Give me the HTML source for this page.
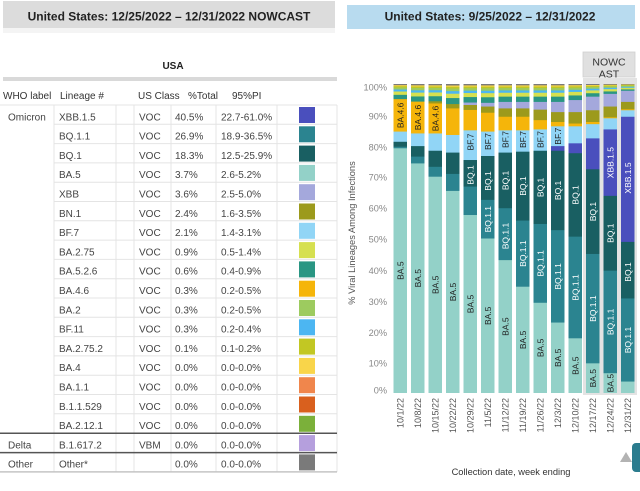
<!DOCTYPE html>
<html>
<head>
<meta charset="utf-8">
<style>
html,body{margin:0;padding:0;background:#fff;}
body{width:640px;height:486px;overflow:hidden;}
svg text{font-family:"Liberation Sans",Arial,sans-serif;}
.tb{font-size:10px;fill:#444;}
.hd{font-size:10px;fill:#333;}
.yl{font-size:9.2px;fill:#888;text-anchor:end;}
.xl{font-size:9px;fill:#555;text-anchor:end;}
.bl{font-size:8.5px;text-anchor:middle;}
.w{fill:#fff;}
.d{fill:#1e1e1e;}
.b5{fill:#93d1c8}.q11{fill:#2b8490}.q1{fill:#195f62}.x15{fill:#4a4fbd}.xb{fill:#a4a8dc}.bn{fill:#9c9a1c}.f7{fill:#91d5f6}.a46{fill:#f5b50a}
.vl{stroke:#e4e4e4;stroke-width:1;}
.hl{stroke:#e4e4e4;stroke-width:1;}
</style>
</head>
<body>
<svg width="640" height="486" viewBox="0 0 640 486" xmlns="http://www.w3.org/2000/svg">
<defs>
<symbol id="m" viewBox="0 0 10 100" preserveAspectRatio="none">
<rect width="10" height="100" fill="#2a9683"/>
<rect width="10" height="65" fill="#d6e050"/>
<rect width="10" height="45" fill="#4cb6f2"/>
<rect width="10" height="33" fill="#9dcb5f"/>
<rect width="10" height="21" fill="#c2c723"/>
<rect width="10" height="13" fill="#f9d54a"/>
<rect width="10" height="7" fill="#7a7a7a"/>
</symbol>
</defs>

<!-- Left header -->
<rect x="3" y="1" width="332" height="27" fill="#dcdcdc"/>
<rect x="3" y="28" width="332" height="5" fill="#f4f4f4"/>
<text x="169" y="20.5" font-size="12" font-weight="bold" fill="#222" text-anchor="middle">United States: 12/25/2022 – 12/31/2022 NOWCAST</text>

<!-- Right header -->
<rect x="347" y="5" width="288" height="24" fill="#b8dbef"/>
<text x="490" y="20.5" font-size="12" font-weight="bold" fill="#222" text-anchor="middle">United States: 9/25/2022 – 12/31/2022</text>

<!-- USA -->
<text x="173" y="69" font-size="10" font-weight="bold" fill="#222" text-anchor="middle">USA</text>
<rect x="3" y="77" width="334" height="4" fill="#d9d9d9"/>

<!-- Table header -->
<text class="hd" x="3" y="99">WHO label</text>
<text class="hd" x="60" y="99">Lineage #</text>
<text class="hd" x="138" y="99">US Class</text>
<text class="hd" x="188" y="99">%Total</text>
<text class="hd" x="232" y="99">95%PI</text>

<!-- Table grid -->
<line class="vl" x1="54" y1="105" x2="54" y2="472"/>
<line class="vl" x1="116" y1="105" x2="116" y2="472"/>
<line class="vl" x1="134" y1="105" x2="134" y2="472"/>
<line class="vl" x1="171" y1="105" x2="171" y2="472"/>
<line class="vl" x1="216" y1="105" x2="216" y2="472"/>
<line class="vl" x1="277" y1="105" x2="277" y2="472"/>
<line class="vl" x1="337" y1="105" x2="337" y2="472"/>
<line class="hl" x1="0" y1="105" x2="337" y2="105"/>
<line class="hl" x1="54" y1="124.3" x2="337" y2="124.3"/>
<line class="hl" x1="54" y1="143.6" x2="337" y2="143.6"/>
<line class="hl" x1="54" y1="162.9" x2="337" y2="162.9"/>
<line class="hl" x1="54" y1="182.2" x2="337" y2="182.2"/>
<line class="hl" x1="54" y1="201.5" x2="337" y2="201.5"/>
<line class="hl" x1="54" y1="220.8" x2="337" y2="220.8"/>
<line class="hl" x1="54" y1="240.1" x2="337" y2="240.1"/>
<line class="hl" x1="54" y1="259.4" x2="337" y2="259.4"/>
<line class="hl" x1="54" y1="278.7" x2="337" y2="278.7"/>
<line class="hl" x1="54" y1="298" x2="337" y2="298"/>
<line class="hl" x1="54" y1="317.3" x2="337" y2="317.3"/>
<line class="hl" x1="54" y1="336.6" x2="337" y2="336.6"/>
<line class="hl" x1="54" y1="355.9" x2="337" y2="355.9"/>
<line class="hl" x1="54" y1="375.2" x2="337" y2="375.2"/>
<line class="hl" x1="54" y1="394.5" x2="337" y2="394.5"/>
<line class="hl" x1="54" y1="413.8" x2="337" y2="413.8"/>
<line x1="0" y1="433.3" x2="337" y2="433.3" stroke="#555" stroke-width="1.5"/>
<line x1="0" y1="452.6" x2="337" y2="452.6" stroke="#555" stroke-width="1.5"/>
<line x1="0" y1="471.9" x2="337" y2="471.9" stroke="#c4c4c4" stroke-width="1.5"/>

<!-- Table rows -->
<text class="tb" x="8" y="120.3">Omicron</text>
<text class="tb" x="59" y="120.3">XBB.1.5</text><text class="tb" x="139" y="120.3">VOC</text><text class="tb" x="175" y="120.3">40.5%</text><text class="tb" x="221" y="120.3">22.7-61.0%</text><rect x="299" y="107" width="16" height="16" fill="#4a4fbd"/>
<text class="tb" x="59" y="139.6">BQ.1.1</text><text class="tb" x="139" y="139.6">VOC</text><text class="tb" x="175" y="139.6">26.9%</text><text class="tb" x="221" y="139.6">18.9-36.5%</text><rect x="299" y="126.3" width="16" height="16" fill="#2b8490"/>
<text class="tb" x="59" y="158.9">BQ.1</text><text class="tb" x="139" y="158.9">VOC</text><text class="tb" x="175" y="158.9">18.3%</text><text class="tb" x="221" y="158.9">12.5-25.9%</text><rect x="299" y="145.6" width="16" height="16" fill="#195f62"/>
<text class="tb" x="59" y="178.2">BA.5</text><text class="tb" x="139" y="178.2">VOC</text><text class="tb" x="175" y="178.2">3.7%</text><text class="tb" x="221" y="178.2">2.6-5.2%</text><rect x="299" y="164.9" width="16" height="16" fill="#93d1c8"/>
<text class="tb" x="59" y="197.5">XBB</text><text class="tb" x="139" y="197.5">VOC</text><text class="tb" x="175" y="197.5">3.6%</text><text class="tb" x="221" y="197.5">2.5-5.0%</text><rect x="299" y="184.2" width="16" height="16" fill="#a4a8dc"/>
<text class="tb" x="59" y="216.8">BN.1</text><text class="tb" x="139" y="216.8">VOC</text><text class="tb" x="175" y="216.8">2.4%</text><text class="tb" x="221" y="216.8">1.6-3.5%</text><rect x="299" y="203.5" width="16" height="16" fill="#9c9a1c"/>
<text class="tb" x="59" y="236.1">BF.7</text><text class="tb" x="139" y="236.1">VOC</text><text class="tb" x="175" y="236.1">2.1%</text><text class="tb" x="221" y="236.1">1.4-3.1%</text><rect x="299" y="222.8" width="16" height="16" fill="#91d5f6"/>
<text class="tb" x="59" y="255.4">BA.2.75</text><text class="tb" x="139" y="255.4">VOC</text><text class="tb" x="175" y="255.4">0.9%</text><text class="tb" x="221" y="255.4">0.5-1.4%</text><rect x="299" y="242.1" width="16" height="16" fill="#d6e050"/>
<text class="tb" x="59" y="274.7">BA.5.2.6</text><text class="tb" x="139" y="274.7">VOC</text><text class="tb" x="175" y="274.7">0.6%</text><text class="tb" x="221" y="274.7">0.4-0.9%</text><rect x="299" y="261.4" width="16" height="16" fill="#2a9683"/>
<text class="tb" x="59" y="294">BA.4.6</text><text class="tb" x="139" y="294">VOC</text><text class="tb" x="175" y="294">0.3%</text><text class="tb" x="221" y="294">0.2-0.5%</text><rect x="299" y="280.7" width="16" height="16" fill="#f5b50a"/>
<text class="tb" x="59" y="313.3">BA.2</text><text class="tb" x="139" y="313.3">VOC</text><text class="tb" x="175" y="313.3">0.3%</text><text class="tb" x="221" y="313.3">0.2-0.5%</text><rect x="299" y="300" width="16" height="16" fill="#9dcb5f"/>
<text class="tb" x="59" y="332.6">BF.11</text><text class="tb" x="139" y="332.6">VOC</text><text class="tb" x="175" y="332.6">0.3%</text><text class="tb" x="221" y="332.6">0.2-0.4%</text><rect x="299" y="319.3" width="16" height="16" fill="#4cb6f2"/>
<text class="tb" x="59" y="351.9">BA.2.75.2</text><text class="tb" x="139" y="351.9">VOC</text><text class="tb" x="175" y="351.9">0.1%</text><text class="tb" x="221" y="351.9">0.1-0.2%</text><rect x="299" y="338.6" width="16" height="16" fill="#c2c723"/>
<text class="tb" x="59" y="371.2">BA.4</text><text class="tb" x="139" y="371.2">VOC</text><text class="tb" x="175" y="371.2">0.0%</text><text class="tb" x="221" y="371.2">0.0-0.0%</text><rect x="299" y="357.9" width="16" height="16" fill="#f9d54a"/>
<text class="tb" x="59" y="390.5">BA.1.1</text><text class="tb" x="139" y="390.5">VOC</text><text class="tb" x="175" y="390.5">0.0%</text><text class="tb" x="221" y="390.5">0.0-0.0%</text><rect x="299" y="377.2" width="16" height="16" fill="#f0864c"/>
<text class="tb" x="59" y="409.8">B.1.1.529</text><text class="tb" x="139" y="409.8">VOC</text><text class="tb" x="175" y="409.8">0.0%</text><text class="tb" x="221" y="409.8">0.0-0.0%</text><rect x="299" y="396.5" width="16" height="16" fill="#d9601e"/>
<text class="tb" x="59" y="429.1">BA.2.12.1</text><text class="tb" x="139" y="429.1">VOC</text><text class="tb" x="175" y="429.1">0.0%</text><text class="tb" x="221" y="429.1">0.0-0.0%</text><rect x="299" y="415.8" width="16" height="16" fill="#7bb03a"/>
<text class="tb" x="8" y="448.4">Delta</text><text class="tb" x="59" y="448.4">B.1.617.2</text><text class="tb" x="139" y="448.4">VBM</text><text class="tb" x="175" y="448.4">0.0%</text><text class="tb" x="221" y="448.4">0.0-0.0%</text><rect x="299" y="435.1" width="16" height="16" fill="#b59fdd"/>
<text class="tb" x="8" y="467.7">Other</text><text class="tb" x="59" y="467.7">Other*</text><text class="tb" x="175" y="467.7">0.0%</text><text class="tb" x="221" y="467.7">0.0-0.0%</text><rect x="299" y="454.4" width="16" height="16" fill="#7a7a7a"/>

<!-- Chart: y axis labels -->
<text class="yl" x="387" y="90.3">100%</text>
<text class="yl" x="387" y="119.5">90%</text>
<text class="yl" x="387" y="150.3">80%</text>
<text class="yl" x="387" y="180.5">70%</text>
<text class="yl" x="387" y="211.3">60%</text>
<text class="yl" x="387" y="242.3">50%</text>
<text class="yl" x="387" y="274">40%</text>
<text class="yl" x="387" y="305">30%</text>
<text class="yl" x="387" y="336">20%</text>
<text class="yl" x="387" y="366.3">10%</text>
<text class="yl" x="387" y="393.3">0%</text>
<text transform="translate(355,233) rotate(-90)" font-size="9.3" fill="#555" text-anchor="middle">% Viral Lineages Among Infections</text>

<!-- Nowcast frame -->
<rect x="583" y="78" width="54" height="317" fill="#e3e3e3"/>
<rect x="583" y="52" width="52" height="25" fill="#e0e0e0" stroke="#cfcfcf" stroke-width="0.8"/>
<text x="609" y="65.5" font-size="10.5" fill="#333" text-anchor="middle">NOWC</text>
<text x="609" y="77.5" font-size="10.5" fill="#333" text-anchor="middle">AST</text>

<!-- Bars -->
<svg x="393.5" y="84" width="13.5" height="309" viewBox="0 0 10 100" preserveAspectRatio="none">
<use href="#m" width="10" height="5.4"/>
<rect class="a46" y="4.9" width="10" height="95.1"/><rect class="f7" y="15.4" width="10" height="84.6"/><rect class="q1" y="18.7" width="10" height="81.3"/><rect class="q11" y="20.3" width="10" height="79.7"/><rect class="b5" y="20.8" width="10" height="79.2"/>
</svg>
<svg x="411" y="84" width="13.5" height="309" viewBox="0 0 10 100" preserveAspectRatio="none">
<use href="#m" width="10" height="6.2"/>
<rect class="a46" y="5.7" width="10" height="94.3"/><rect class="f7" y="16" width="10" height="84"/><rect class="q1" y="20.1" width="10" height="79.9"/><rect class="q11" y="23.5" width="10" height="76.5"/><rect class="b5" y="25.7" width="10" height="74.3"/>
</svg>
<svg x="428.5" y="84" width="13.5" height="309" viewBox="0 0 10 100" preserveAspectRatio="none">
<use href="#m" width="10" height="6.1"/>
<rect class="bn" y="5.6" width="10" height="94.4"/><rect class="a46" y="6.3" width="10" height="93.7"/><rect class="f7" y="16" width="10" height="84"/><rect class="q1" y="21.6" width="10" height="78.4"/><rect class="q11" y="26.8" width="10" height="73.2"/><rect class="b5" y="30" width="10" height="70"/>
</svg>
<svg x="446" y="84" width="13.5" height="309" viewBox="0 0 10 100" preserveAspectRatio="none">
<use href="#m" width="10" height="7"/>
<rect class="bn" y="6.5" width="10" height="93.5"/><rect class="a46" y="7.9" width="10" height="92.1"/><rect class="f7" y="16.5" width="10" height="83.5"/><rect class="q1" y="22.2" width="10" height="77.8"/><rect class="q11" y="29.1" width="10" height="70.9"/><rect class="b5" y="34.6" width="10" height="65.4"/>
</svg>
<svg x="463.5" y="84" width="13.5" height="309" viewBox="0 0 10 100" preserveAspectRatio="none">
<use href="#m" width="10" height="6.5"/>
<rect class="xb" y="6" width="10" height="94"/><rect class="bn" y="6.8" width="10" height="93.2"/><rect class="a46" y="8.4" width="10" height="91.6"/><rect class="f7" y="15" width="10" height="85"/><rect class="q1" y="24.6" width="10" height="75.4"/><rect class="q11" y="33.2" width="10" height="66.8"/><rect class="b5" y="42.4" width="10" height="57.6"/>
</svg>
<svg x="481" y="84" width="13.5" height="309" viewBox="0 0 10 100" preserveAspectRatio="none">
<use href="#m" width="10" height="6.6"/>
<rect class="xb" y="6.1" width="10" height="93.9"/><rect class="bn" y="7.3" width="10" height="92.7"/><rect class="a46" y="9.3" width="10" height="90.7"/><rect class="f7" y="15.4" width="10" height="84.6"/><rect class="q1" y="23.3" width="10" height="76.7"/><rect class="q11" y="37.5" width="10" height="62.5"/><rect class="b5" y="50" width="10" height="50"/>
</svg>
<svg x="498.5" y="84" width="13.5" height="309" viewBox="0 0 10 100" preserveAspectRatio="none">
<use href="#m" width="10" height="6.3"/>
<rect class="xb" y="5.8" width="10" height="94.2"/><rect class="bn" y="7.9" width="10" height="92.1"/><rect class="a46" y="10.6" width="10" height="89.4"/><rect class="f7" y="15" width="10" height="85"/><rect class="q1" y="22.2" width="10" height="77.8"/><rect class="q11" y="40.2" width="10" height="59.8"/><rect class="b5" y="57" width="10" height="43"/>
</svg>
<svg x="516" y="84" width="13.5" height="309" viewBox="0 0 10 100" preserveAspectRatio="none">
<use href="#m" width="10" height="6.3"/>
<rect class="xb" y="5.8" width="10" height="94.2"/><rect class="bn" y="7.9" width="10" height="92.1"/><rect class="a46" y="10.6" width="10" height="89.4"/><rect class="f7" y="15" width="10" height="85"/><rect class="q1" y="21.9" width="10" height="78.1"/><rect class="q11" y="44.2" width="10" height="55.8"/><rect class="b5" y="65.6" width="10" height="34.4"/>
</svg>
<svg x="533.5" y="84" width="13.5" height="309" viewBox="0 0 10 100" preserveAspectRatio="none">
<use href="#m" width="10" height="6.3"/>
<rect class="xb" y="5.8" width="10" height="94.2"/><rect class="bn" y="8.3" width="10" height="91.7"/><rect class="a46" y="11.7" width="10" height="88.3"/><rect class="f7" y="14.7" width="10" height="85.3"/><rect class="q1" y="21.6" width="10" height="78.4"/><rect class="q11" y="45.3" width="10" height="54.7"/><rect class="b5" y="70.8" width="10" height="29.2"/>
</svg>
<svg x="551" y="84" width="13.5" height="309" viewBox="0 0 10 100" preserveAspectRatio="none">
<use href="#m" width="10" height="6.3"/>
<rect class="xb" y="5.8" width="10" height="94.2"/><rect class="bn" y="9.1" width="10" height="90.9"/><rect class="a46" y="12.3" width="10" height="87.7"/><rect class="f7" y="13.7" width="10" height="86.3"/><rect class="x15" y="20.1" width="10" height="79.9"/><rect class="q1" y="21.6" width="10" height="78.4"/><rect class="q11" y="47.3" width="10" height="52.7"/><rect class="b5" y="77.2" width="10" height="22.8"/>
</svg>
<svg x="568.5" y="84" width="13.5" height="309" viewBox="0 0 10 100" preserveAspectRatio="none">
<use href="#m" width="10" height="5.7"/>
<rect class="xb" y="5.2" width="10" height="94.8"/><rect class="bn" y="9.1" width="10" height="90.9"/><rect class="a46" y="12.8" width="10" height="87.2"/><rect class="f7" y="13.7" width="10" height="86.3"/><rect class="x15" y="19.2" width="10" height="80.8"/><rect class="q1" y="22.4" width="10" height="77.6"/><rect class="q11" y="49.4" width="10" height="50.6"/><rect class="b5" y="82.3" width="10" height="17.7"/>
</svg>
<svg x="586" y="84" width="13.5" height="309" viewBox="0 0 10 100" preserveAspectRatio="none">
<use href="#m" width="10" height="4.6"/>
<rect class="xb" y="4.1" width="10" height="95.9"/><rect class="bn" y="8.5" width="10" height="91.5"/><rect class="a46" y="12.3" width="10" height="87.7"/><rect class="f7" y="13" width="10" height="87"/><rect class="x15" y="17.6" width="10" height="82.4"/><rect class="q1" y="27.6" width="10" height="72.4"/><rect class="q11" y="55" width="10" height="45"/><rect class="b5" y="90.4" width="10" height="9.6"/>
</svg>
<svg x="603.5" y="84" width="13.5" height="309" viewBox="0 0 10 100" preserveAspectRatio="none">
<use href="#m" width="10" height="3.7"/>
<rect class="xb" y="3.2" width="10" height="96.8"/><rect class="bn" y="7.3" width="10" height="92.7"/><rect class="a46" y="10.8" width="10" height="89.2"/><rect class="f7" y="11.1" width="10" height="88.9"/><rect class="x15" y="14.7" width="10" height="85.3"/><rect class="q1" y="36.2" width="10" height="63.8"/><rect class="q11" y="60.4" width="10" height="39.6"/><rect class="b5" y="93.6" width="10" height="6.4"/>
</svg>
<svg x="621" y="84" width="13.5" height="309" viewBox="0 0 10 100" preserveAspectRatio="none">
<use href="#m" width="10" height="2.7"/>
<rect class="xb" y="2.2" width="10" height="97.8"/><rect class="bn" y="5.8" width="10" height="94.2"/><rect class="a46" y="8.2" width="10" height="91.8"/><rect class="f7" y="8.5" width="10" height="91.5"/><rect class="x15" y="10.6" width="10" height="89.4"/><rect class="q1" y="51.1" width="10" height="48.9"/><rect class="q11" y="69.4" width="10" height="30.6"/><rect class="b5" y="96.3" width="10" height="3.7"/>
</svg>

<!-- Bar labels -->
<text class="bl d" transform="translate(403.3,270.6) rotate(-90)">BA.5</text>
<text class="bl d" transform="translate(403.3,115.4) rotate(-90)">BA.4.6</text>
<text class="bl d" transform="translate(420.8,278.2) rotate(-90)">BA.5</text>
<text class="bl d" transform="translate(420.8,117.5) rotate(-90)">BA.4.6</text>
<text class="bl d" transform="translate(438.3,284.8) rotate(-90)">BA.5</text>
<text class="bl d" transform="translate(438.3,118.5) rotate(-90)">BA.4.6</text>
<text class="bl d" transform="translate(455.8,292) rotate(-90)">BA.5</text>
<text class="bl d" transform="translate(473.3,304) rotate(-90)">BA.5</text>
<text class="bl w" transform="translate(473.3,175) rotate(-90)">BQ.1</text>
<text class="bl d" transform="translate(473.3,142) rotate(-90)">BF.7</text>
<text class="bl d" transform="translate(490.8,315.8) rotate(-90)">BA.5</text>
<text class="bl w" transform="translate(490.8,219.2) rotate(-90)">BQ.1.1</text>
<text class="bl w" transform="translate(490.8,181) rotate(-90)">BQ.1</text>
<text class="bl d" transform="translate(490.8,141.5) rotate(-90)">BF.7</text>
<text class="bl d" transform="translate(508.3,326.6) rotate(-90)">BA.5</text>
<text class="bl w" transform="translate(508.3,236) rotate(-90)">BQ.1.1</text>
<text class="bl w" transform="translate(508.3,180.4) rotate(-90)">BQ.1</text>
<text class="bl d" transform="translate(508.3,139.5) rotate(-90)">BF.7</text>
<text class="bl d" transform="translate(525.8,339.9) rotate(-90)">BA.5</text>
<text class="bl w" transform="translate(525.8,253.6) rotate(-90)">BQ.1.1</text>
<text class="bl w" transform="translate(525.8,186.1) rotate(-90)">BQ.1</text>
<text class="bl d" transform="translate(525.8,139.5) rotate(-90)">BF.7</text>
<text class="bl d" transform="translate(543.3,347.9) rotate(-90)">BA.5</text>
<text class="bl w" transform="translate(543.3,263.4) rotate(-90)">BQ.1.1</text>
<text class="bl w" transform="translate(543.3,187.4) rotate(-90)">BQ.1</text>
<text class="bl d" transform="translate(543.3,139.5) rotate(-90)">BF.7</text>
<text class="bl d" transform="translate(560.8,357.8) rotate(-90)">BA.5</text>
<text class="bl w" transform="translate(560.8,276.4) rotate(-90)">BQ.1.1</text>
<text class="bl w" transform="translate(560.8,190.4) rotate(-90)">BQ.1</text>
<text class="bl d" transform="translate(560.8,136.2) rotate(-90)">BF.7</text>
<text class="bl d" transform="translate(578.3,365.7) rotate(-90)">BA.5</text>
<text class="bl w" transform="translate(578.3,287.5) rotate(-90)">BQ.1.1</text>
<text class="bl w" transform="translate(578.3,194.9) rotate(-90)">BQ.1</text>
<text class="bl d" transform="translate(595.8,378.2) rotate(-90)">BA.5</text>
<text class="bl w" transform="translate(595.8,308.6) rotate(-90)">BQ.1.1</text>
<text class="bl w" transform="translate(595.8,211.6) rotate(-90)">BQ.1</text>
<text class="bl d" transform="translate(613.3,383.1) rotate(-90)">BA.5</text>
<text class="bl w" transform="translate(613.3,321.9) rotate(-90)">BQ.1.1</text>
<text class="bl w" transform="translate(613.3,233.2) rotate(-90)">BQ.1</text>
<text class="bl w" transform="translate(613.3,162.6) rotate(-90)">XBB.1.5</text>
<text class="bl w" transform="translate(630.8,340) rotate(-90)">BQ.1.1</text>
<text class="bl w" transform="translate(630.8,272) rotate(-90)">BQ.1</text>
<text class="bl w" transform="translate(630.8,178) rotate(-90)">XBB.1.5</text>

<!-- X labels -->
<text class="xl" transform="translate(403.5,398) rotate(-90)">10/1/22</text>
<text class="xl" transform="translate(421,398) rotate(-90)">10/8/22</text>
<text class="xl" transform="translate(438.5,398) rotate(-90)">10/15/22</text>
<text class="xl" transform="translate(456,398) rotate(-90)">10/22/22</text>
<text class="xl" transform="translate(473.5,398) rotate(-90)">10/29/22</text>
<text class="xl" transform="translate(491,398) rotate(-90)">11/5/22</text>
<text class="xl" transform="translate(508.5,398) rotate(-90)">11/12/22</text>
<text class="xl" transform="translate(526,398) rotate(-90)">11/19/22</text>
<text class="xl" transform="translate(543.5,398) rotate(-90)">11/26/22</text>
<text class="xl" transform="translate(561,398) rotate(-90)">12/3/22</text>
<text class="xl" transform="translate(578.5,398) rotate(-90)">12/10/22</text>
<text class="xl" transform="translate(596,398) rotate(-90)">12/17/22</text>
<text class="xl" transform="translate(613.5,398) rotate(-90)">12/24/22</text>
<text class="xl" transform="translate(631,398) rotate(-90)">12/31/22</text>

<text x="511" y="475" font-size="9.3" fill="#333" text-anchor="middle">Collection date, week ending</text>

<!-- bottom-right widgets -->
<polygon points="620,462 632,462 626,452" fill="#b3b3b3"/>
<rect x="632" y="443" width="12" height="29" rx="4" fill="#2b7c8e"/>
</svg>
</body>
</html>
